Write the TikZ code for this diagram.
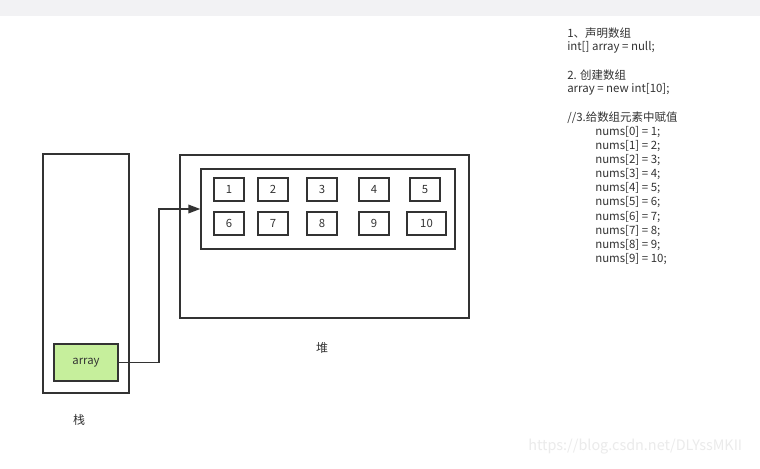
\documentclass[tikz,border=0pt]{standalone}
\usepackage{fontspec}
\setmainfont{Noto Sans CJK SC}
\usepackage{xcolor}
\usetikzlibrary{arrows.meta, positioning, calc}
\definecolor{ink}{HTML}{333333}
\definecolor{arrgreen}{HTML}{C6EF9C}
\definecolor{topband}{HTML}{F2F2F4}
\definecolor{wmark}{HTML}{EBEBEB}
\tikzset{
  membox/.style = {rectangle, draw=ink, line width=1.1pt, inner sep=0pt},
  cell/.style   = {rectangle, draw=ink, line width=1.1pt, inner sep=0pt,
                   minimum width=22.5pt, minimum height=17.25pt,
                   font=\fontsize{8.5}{10}\selectfont, text=ink},
  code/.style   = {anchor=west, inner sep=0pt,
                   font=\fontsize{8.6}{10}\selectfont, text=ink},
  arrow/.style  = {-{Triangle[length=9pt,width=6.5pt]}, draw=ink, line width=1.1pt},
}

\begin{document}
\begin{tikzpicture}[x=0.75pt, y=-0.75pt]
  \useasboundingbox (0,0) rectangle (760,468);
  \fill[white] (0,0) rectangle (760,468);
  \fill[topband] (0,0) rectangle (760,16);

  % stack
  \node[membox, minimum width=64.5pt, minimum height=179.25pt] (stack) at (86,273.5) {};
  \node[membox, fill=arrgreen, minimum width=48pt, minimum height=27.75pt,
        font=\fontsize{8.5}{10}\selectfont, text=ink] (arr) at (86,362.5) {array};
  \node[font=\fontsize{9}{10}\selectfont, text=ink] (stacklbl) at (79,420) {栈};

  % heap
  \node[membox, minimum width=216.75pt, minimum height=122.25pt] (heap) at (324.5,236.5) {};
  \node[membox, minimum width=190.5pt, minimum height=60pt] (inner) at (328,209) {};
  \node[font=\fontsize{9}{10}\selectfont, text=ink] (heaplbl) at (322,348) {堆};

  % array elements
  \foreach \i/\x in {1/229, 2/273, 3/322, 4/374, 5/425}{
    \node[cell] (c\i) at (\x,189.5) {\i};
  }
  \foreach \i/\x in {6/229, 7/273, 8/322, 9/374}{
    \node[cell] (c\i) at (\x,223.5) {\i};
  }
  \node[cell, minimum width=29.25pt] (c10) at (426.5,223.5) {10};

  % reference from stack to heap
  \coordinate (bend) at (159,330);
  \draw[arrow] (arr.east) -| (bend) |- (inner.west);

  % code
  \node[code] (l1) at (567,33) {1、声明数组};
  \node[code] (l2) at (567,47) {int[] array = null;};
  \node[code] (l3) at (567,75) {2. 创建数组};
  \node[code] (l4) at (567,89) {array = new int[10];};
  \node[code] (l5) at (567,118) {//3.给数组元素中赋值};
  \foreach \k in {0,...,9}{
    \pgfmathtruncatemacro\v{\k+1}
    \node[code] (n\k) at (595,132+14.1*\k) {nums[\k] = \v;};
  }

  % watermark
  \node[anchor=west, inner sep=0pt, text=wmark,
        font=\fontsize{10.8}{12}\selectfont] (wm) at (528,447) {https://blog.csdn.net/DLYssMKII};
\end{tikzpicture}
\end{document}
